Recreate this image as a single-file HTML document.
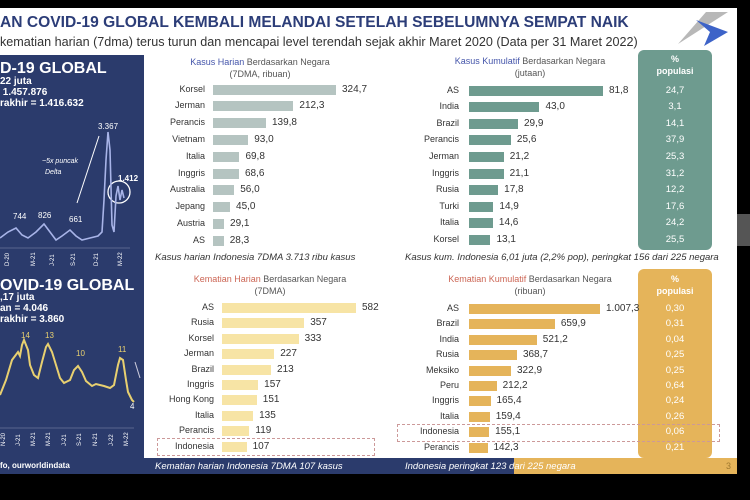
<!DOCTYPE html>
<html><head><meta charset="utf-8">
<style>
body{margin:0;width:750px;height:500px;background:#000;overflow:hidden;font-family:"Liberation Sans",sans-serif;position:relative}
.a{position:absolute;white-space:nowrap}
#slide{position:absolute;left:0;top:8px;width:737px;height:466px;background:#fff}
.lbl{position:absolute;font-size:9px;color:#333;text-align:right;width:80px}
.val{position:absolute;font-size:10px;color:#333}
.bar{position:absolute;height:10px}
.ttl{position:absolute;font-size:9px;color:#555;text-align:center;width:200px;line-height:12px}
.cap{position:absolute;font-size:9.5px;font-style:italic;color:#333}
.pct{position:absolute;font-size:9.5px;color:#fff;width:74px;text-align:center}
</style></head><body>
<div id="slide"></div>
<div class="a" style="left:0;top:14px;font-size:15.6px;font-weight:bold;color:#2c3d78">AN COVID-19 GLOBAL KEMBALI MELANDAI SETELAH SEBELUMNYA SEMPAT NAIK</div>
<div class="a" style="left:0;top:35px;font-size:12.6px;color:#333">kematian harian (7dma) terus turun dan mencapai level terendah sejak akhir Maret 2020 (Data per 31 Maret 2022)</div>
<svg class="a" style="left:676px;top:10px" width="55" height="38"><polygon points="2,34 30,2 52,2" fill="#b8b8b8"/><polygon points="20,10 52,22 28,36 34,22" fill="#3d63c8"/></svg>
<div class="a" style="left:0;top:55px;width:144px;height:419px;background:#2b3b6c"></div>
<div class="a" style="left:0;top:458px;width:514px;height:16px;background:#2b3b6c"></div>
<div class="a" style="left:514px;top:458px;width:223px;height:16px;background:#e5b45a"></div>
<div class="a" style="left:638px;top:50px;width:74px;height:200px;background:#6e9b8f;border-radius:6px"></div>
<div class="a" style="left:638px;top:269px;width:74px;height:189px;background:#e5b45a;border-radius:6px"></div>
<div class="a" style="left:0;top:60px;color:#fff;font-weight:bold;font-size:16px">D-19 GLOBAL</div>
<div class="a" style="left:0;top:76px;color:#fff;font-weight:bold;font-size:10px;line-height:11px">22 juta<br>&nbsp;1.457.876<br>rakhir = 1.416.632</div>
<div class="a" style="left:0;top:277px;color:#fff;font-weight:bold;font-size:16px">OVID-19 GLOBAL</div>
<div class="a" style="left:0;top:292px;color:#fff;font-weight:bold;font-size:10px;line-height:11px">,17 juta<br>an = 4.046<br>rakhir = 3.860</div>
<div class="a" style="left:0;top:461px;color:#fff;font-weight:bold;font-size:8px">fo, ourworldindata</div>
<svg class="a" style="left:0;top:0" width="144" height="474">
<g fill="#fff" font-size="8" font-family="Liberation Sans">
<text x="13" y="219">744</text><text x="38" y="218">826</text><text x="69" y="222">661</text><text x="98" y="129">3.367</text><text x="118" y="181" font-weight="bold">1.412</text>
<text x="42" y="163" font-style="italic" font-size="7">~5x puncak</text><text x="45" y="174" font-style="italic" font-size="7">Delta</text>
</g>
<line x1="77" y1="203" x2="99" y2="136" stroke="#fff" stroke-width="1"/>
<circle cx="119" cy="192" r="11" fill="none" stroke="#fff" stroke-width="1.3"/>
<polyline fill="none" stroke="#a8b4e8" stroke-width="1.6" points="0,238 8,232 16,228 22,235 28,238 36,232 44,224 50,232 56,240 62,236 70,230 76,236 82,240 90,238 98,236 102,232 104,200 106,160 108,132 110,150 112,225 114,232 116,196 118,186 120,200 122,190 124,198"/>
<polyline fill="none" stroke="#e8d070" stroke-width="2" points="0,395 6,380 12,360 18,352 20,356 22,345 24,340 28,350 30,365 34,375 38,378 42,362 46,347 48,344 52,352 56,365 60,378 64,383 70,380 74,370 78,366 82,372 86,381 92,386 96,384 104,386 110,388 114,385 118,365 120,358 123,360 126,380 128,392 132,400 134,402"/>
<line x1="135" y1="362" x2="140" y2="378" stroke="#ccd" stroke-width="1"/>
<g fill="#e8d070" font-size="8" font-family="Liberation Sans"><text x="21" y="338">14</text><text x="45" y="338">13</text><text x="76" y="356">10</text><text x="118" y="352">11</text><text x="130" y="409" fill="#fff">4</text></g>
<g fill="#fff" font-size="6" font-family="Liberation Sans">
<text transform="translate(9,266) rotate(-90)">D-20</text><text transform="translate(35,266) rotate(-90)">M-21</text><text transform="translate(54,266) rotate(-90)">J-21</text><text transform="translate(75,266) rotate(-90)">S-21</text><text transform="translate(98,266) rotate(-90)">D-21</text><text transform="translate(122,266) rotate(-90)">M-22</text>
<text transform="translate(5,446) rotate(-90)">N-20</text><text transform="translate(20,446) rotate(-90)">J-21</text><text transform="translate(35,446) rotate(-90)">M-21</text><text transform="translate(50,446) rotate(-90)">M-21</text><text transform="translate(66,446) rotate(-90)">J-21</text><text transform="translate(81,446) rotate(-90)">S-21</text><text transform="translate(97,446) rotate(-90)">N-21</text><text transform="translate(113,446) rotate(-90)">J-22</text><text transform="translate(128,446) rotate(-90)">M-22</text>
</g>
<line x1="0" y1="248" x2="130" y2="248" stroke="#8890b0" stroke-width="0.6"/>
<line x1="0" y1="428" x2="134" y2="428" stroke="#8890b0" stroke-width="0.6"/>
</svg>
<div class="ttl" style="left:160px;top:56px"><span style="color:#4455aa">Kasus Harian</span> Berdasarkan Negara<br>(7DMA, ribuan)</div>
<div class="ttl" style="left:170px;top:273px"><span style="color:#cc6655">Kematian Harian</span> Berdasarkan Negara<br>(7DMA)</div>
<div class="ttl" style="left:430px;top:55px"><span style="color:#4455aa">Kasus Kumulatif</span> Berdasarkan Negara<br>(jutaan)</div>
<div class="ttl" style="left:430px;top:273px"><span style="color:#cc6655">Kematian Kumulatif</span> Berdasarkan Negara<br>(ribuan)</div>
<div class="a" style="left:638px;top:53px;width:74px;text-align:center;color:#fff;font-weight:bold;font-size:9px;line-height:12px">%<br>populasi</div>
<div class="a" style="left:638px;top:273px;width:74px;text-align:center;color:#fff;font-weight:bold;font-size:9px;line-height:12px">%<br>populasi</div>
<div class="cap" style="left:155px;top:252px">Kasus harian Indonesia 7DMA 3.713 ribu kasus</div>
<div class="cap" style="left:405px;top:252px">Kasus kum. Indonesia 6,01 juta (2,2% pop), peringkat 156 dari 225 negara</div>
<div class="cap" style="left:155px;top:461px;color:#fff">Kematian harian Indonesia 7DMA 107 kasus</div>
<div class="cap" style="left:405px;top:461px;color:#fff">Indonesia peringkat 123 dari 225 negara</div>
<div class="a" style="left:726px;top:461px;font-size:9px;color:#a07a30">3</div>
<div class="a" style="left:157px;top:438px;width:216px;height:16px;border:1px dashed #c99"></div>
<div class="a" style="left:397px;top:424px;width:321px;height:16px;border:1px dashed #c99"></div>
<div class="a" style="left:737px;top:214px;width:13px;height:32px;background:#555"></div>
<div id="c"></div>
<script>
var P=[
{lx:205,bx:213,y0:89.5,dy:16.8,max:324.7,w:123,col:"#b5c4c1",d:[["Korsel",324.7,"324,7"],["Jerman",212.3,"212,3"],["Perancis",139.8,"139,8"],["Vietnam",93,"93,0"],["Italia",69.8,"69,8"],["Inggris",68.6,"68,6"],["Australia",56,"56,0"],["Jepang",45,"45,0"],["Austria",29.1,"29,1"],["AS",28.3,"28,3"]]},
{lx:214,bx:222,y0:308,dy:15.4,max:582,w:134,col:"#f7e4a5",d:[["AS",582,"582"],["Rusia",357,"357"],["Korsel",333,"333"],["Jerman",227,"227"],["Brazil",213,"213"],["Inggris",157,"157"],["Hong Kong",151,"151"],["Italia",135,"135"],["Perancis",119,"119"],["Indonesia",107,"107"]]},
{lx:459,bx:469,y0:90.5,dy:16.6,max:81.8,w:134,col:"#6e9b8f",pc:["24,7","3,1","14,1","37,9","25,3","31,2","12,2","17,6","24,2","25,5"],d:[["AS",81.8,"81,8"],["India",43,"43,0"],["Brazil",29.9,"29,9"],["Perancis",25.6,"25,6"],["Jerman",21.2,"21,2"],["Inggris",21.1,"21,1"],["Rusia",17.8,"17,8"],["Turki",14.9,"14,9"],["Italia",14.6,"14,6"],["Korsel",13.1,"13,1"]]},
{lx:459,bx:469,y0:309,dy:15.4,max:1007.3,w:131,col:"#e5b45a",pc:["0,30","0,31","0,04","0,25","0,25","0,64","0,24","0,26","0,06","0,21"],d:[["AS",1007.3,"1.007,3"],["Brazil",659.9,"659,9"],["India",521.2,"521,2"],["Rusia",368.7,"368,7"],["Meksiko",322.9,"322,9"],["Peru",212.2,"212,2"],["Inggris",165.4,"165,4"],["Italia",159.4,"159,4"],["Indonesia",155.1,"155,1"],["Perancis",142.3,"142,3"]]}];
var h="";
P.forEach(function(p){p.d.forEach(function(r,i){var y=p.y0+i*p.dy;var w=r[1]/p.max*p.w;
h+='<div class="lbl" style="left:'+(p.lx-80)+'px;top:'+(y-6)+'px">'+r[0]+'</div>';
h+='<div class="bar" style="left:'+p.bx+'px;top:'+(y-5)+'px;width:'+w+'px;background:'+p.col+'"></div>';
h+='<div class="val" style="left:'+(p.bx+w+6)+'px;top:'+(y-6)+'px">'+r[2]+'</div>';
if(p.pc)h+='<div class="pct" style="left:638px;top:'+(y-6)+'px">'+p.pc[i]+'</div>';});});
document.getElementById("c").innerHTML=h;
</script>
</body></html>
